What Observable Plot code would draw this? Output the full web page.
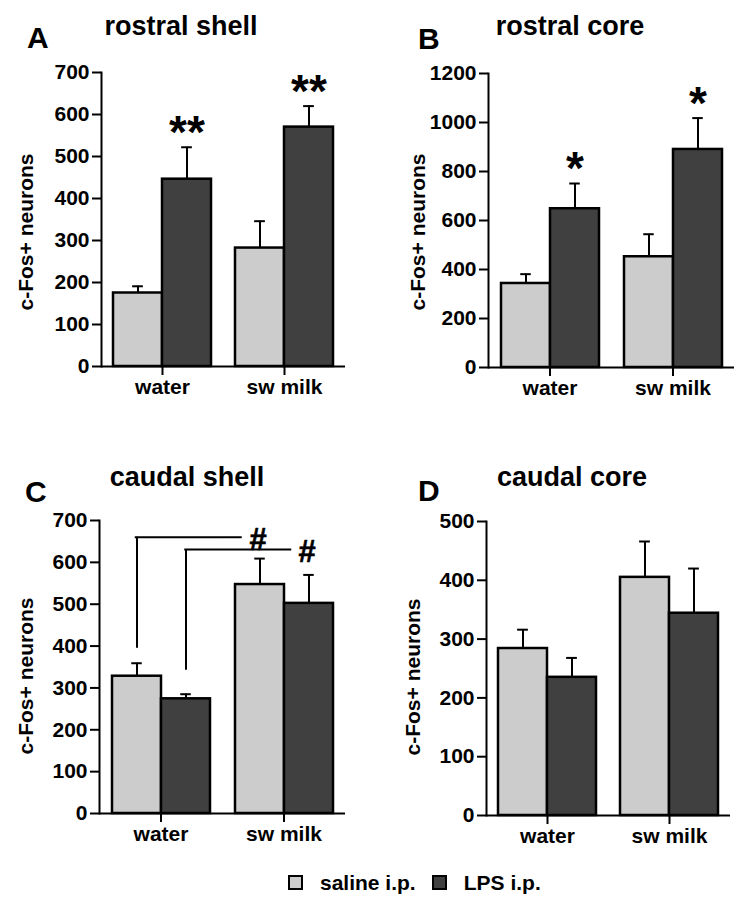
<!DOCTYPE html>
<html>
<head>
<meta charset="utf-8">
<script src="https://cdn.jsdelivr.net/npm/d3@7"></script>
<script src="https://cdn.jsdelivr.net/npm/@observablehq/plot@0.6"></script>
<style>
  html, body { margin: 0; padding: 0; background: #fff; }
  body { font-family: "Liberation Sans", Arial, sans-serif; font-weight: bold; color: #000; }
  #page { position: relative; width: 750px; height: 911px; overflow: hidden; }
  .letter { position: absolute; font-size: 30px; line-height: 1; white-space: nowrap; }
  .title { position: absolute; font-size: 27px; line-height: 1; white-space: nowrap; transform: translateX(-50%); }
  .ylab { position: absolute; font-size: 21px; line-height: 1; white-space: nowrap; transform: translate(-50%, -50%) rotate(-90deg); }
  .legend { position: absolute; left: 288px; top: 872px; display: flex; align-items: center; font-size: 21px; line-height: 1; white-space: nowrap; }
  .sw { width: 11px; height: 11px; border: 2px solid #000; display: inline-block; }
  .legend span.lab { margin-left: 17px; margin-right: 16px; }
</style>
</head>
<body>
<div id="page"></div>
<script>
// ---------- data ----------
const groups = ["water", "sw milk"];
const treatments = ["saline i.p.", "LPS i.p."];
const yLabel = "c-Fos+ neurons";

// order: water/saline, water/LPS, sw milk/saline, sw milk/LPS
const rostralShellMean = [175, 446, 282, 570];
const rostralShellSem  = [16, 76, 64, 50];
const rostralShellSig  = ["", "**", "", "**"];
const rostralShellTicks = [0, 100, 200, 300, 400, 500, 600, 700];

const rostralCoreMean = [343, 648, 452, 890];
const rostralCoreSem  = [38, 103, 92, 128];
const rostralCoreSig  = ["", "*", "", "*"];
const rostralCoreTicks = [0, 200, 400, 600, 800, 1000, 1200];

const caudalShellMean = [328, 274, 547, 502];
const caudalShellSem  = [31, 11, 62, 68];
const caudalShellSig  = ["", "", "", ""];
const caudalShellTicks = [0, 100, 200, 300, 400, 500, 600, 700];
// "#" comparisons: water vs sw milk within a treatment (bracket levels in data units)
const caudalShellComparisons = [
  {from: "water", to: "sw milk", treatment: "saline i.p.", low: 395, high: 660, label: "#"},
  {from: "water", to: "sw milk", treatment: "LPS i.p.", low: 342, high: 631, label: "#"}
];

const caudalCoreMean = [284, 235, 405, 344];
const caudalCoreSem  = [32, 33, 61, 76];
const caudalCoreSig  = ["", "", "", ""];
const caudalCoreTicks = [0, 100, 200, 300, 400, 500];

const colors = ["#cccccc", "#404040"];

// ---------- drawing ----------
const FONT = '"Liberation Sans", Arial, sans-serif';
const FS = 21;
const PAD = 12; // px gap between axis/facet edge and bars

function buildRows(mean, sem, sig) {
  const rows = [];
  groups.forEach((g, gi) => treatments.forEach((t, ti) => {
    const k = gi * treatments.length + ti;
    rows.push({group: g, treatment: t, mean: mean[k], sem: sem[k], top: mean[k] + sem[k], sig: sig[k]});
  }));
  return rows;
}

function panel({mean, sem, sig, ticks, comps = [], L}) {
  const rows = buildRows(mean, sem, sig);
  const ymax = ticks[ticks.length - 1];
  const facetW = (375 - L.ml - L.mr) / groups.length;
  const bw = (facetW - 2 * PAD) / treatments.length;
  const marks = [
    Plot.barY(rows, {fx: "group", x: "treatment", y: "mean", fill: "treatment", stroke: "#000", strokeWidth: 2.5}),
    Plot.ruleX(rows, {fx: "group", x: "treatment", y1: "mean", y2: "top", stroke: "#000", strokeWidth: 2}),
    Plot.tickY(rows, {fx: "group", x: "treatment", y: "top", stroke: "#000", strokeWidth: 2, inset: (bw - 11) / 2}),
    Plot.text(rows.filter(d => d.sig), {fx: "group", x: "treatment", y: "top", text: "sig", fontSize: 46, fontWeight: "bold", fontFamily: FONT, lineAnchor: "middle", dy: -14, fill: "#000"}),
    Plot.ruleY([0], {stroke: "#000", strokeWidth: 2}),
    Plot.frame({anchor: "left", facetAnchor: "left", stroke: "#000", strokeWidth: 2}),
    Plot.axisY({ticks, tickFormat: "d", tickSize: 9, tickPadding: 3, label: null, fontSize: FS, fontWeight: "bold", fontFamily: FONT, strokeWidth: 2}),
    Plot.axisFx({anchor: "bottom", tickSize: 9, tickPadding: 4, label: null, fontSize: FS, fontWeight: "bold", fontFamily: FONT, strokeWidth: 2})
  ];
  comps.forEach((c) => {
    const ti = treatments.indexOf(c.treatment);
    const centerOffset = PAD + (ti + 0.5) * bw; // band centre from facet's left edge
    marks.push(
      Plot.ruleX([c], {fx: "from", x: "treatment", y1: "low", y2: "high", stroke: "#000", strokeWidth: 2}),
      // horizontal part inside the source facet: from the bar centre to the facet's right edge
      Plot.ruleY([c], {fx: "from", y: "high", stroke: "#000", strokeWidth: 2, insetLeft: centerOffset - 1}),
      // horizontal part inside the target facet: from the facet's left edge to just before the label
      Plot.ruleY([c], {fx: "to", y: "high", stroke: "#000", strokeWidth: 2, insetRight: facetW - centerOffset + 17}),
      Plot.text([c], {fx: "to", x: "treatment", y: "high", text: "label", fontSize: 31, fontWeight: "bold", fontFamily: FONT, lineAnchor: "middle", dy: 3, dx: -2, fill: "#000", stroke: "#000", strokeWidth: 0.6})
    );
  });
  return Plot.plot({
    width: 375, height: 420,
    marginLeft: L.ml, marginRight: L.mr, marginTop: L.mt, marginBottom: 420 - L.bottom,
    style: {fontFamily: FONT, fontSize: FS + "px", fontWeight: "bold", color: "#000", background: "transparent", overflow: "visible"},
    fx: {domain: groups, padding: 0, axis: null, label: null},
    x: {domain: treatments, padding: 0, insetLeft: PAD, insetRight: PAD, axis: null},
    y: {domain: [0, ymax], axis: null},
    color: {domain: treatments, range: colors},
    marks
  });
}

const page = document.getElementById("page");
function place(node, left, top) {
  node.style.position = "absolute";
  node.style.left = left + "px";
  node.style.top = top + "px";
  page.appendChild(node);
}
function addText(cls, text, x, baseline, size) {
  const d = document.createElement("div");
  d.className = cls;
  d.textContent = text;
  d.style.left = x + "px";
  d.style.top = (baseline - 0.8465 * size) + "px";
  page.appendChild(d);
}
function addYLabel(cx, cy) {
  const d = document.createElement("div");
  d.className = "ylab";
  d.textContent = yLabel;
  d.style.left = cx + "px";
  d.style.top = cy + "px";
  page.appendChild(d);
}

place(panel({mean: rostralShellMean, sem: rostralShellSem, sig: rostralShellSig, ticks: rostralShellTicks,
  L: {ml: 100, mr: 30, mt: 72, bottom: 366}}), 0, 0);
place(panel({mean: rostralCoreMean, sem: rostralCoreSem, sig: rostralCoreSig, ticks: rostralCoreTicks,
  L: {ml: 113, mr: 16, mt: 73, bottom: 367}}), 375, 0);
place(panel({mean: caudalShellMean, sem: caudalShellSem, sig: caudalShellSig, ticks: caudalShellTicks, comps: caudalShellComparisons,
  L: {ml: 99, mr: 30, mt: 80, bottom: 373}}), 0, 440);
place(panel({mean: caudalCoreMean, sem: caudalCoreSem, sig: caudalCoreSig, ticks: caudalCoreTicks,
  L: {ml: 110, mr: 20, mt: 81, bottom: 375}}), 375, 440);

addYLabel(25, 232);
addYLabel(417, 232);
addYLabel(25, 676);
addYLabel(412, 677);

addText("letter", "A", 27, 48, 30);
addText("letter", "B", 418, 49, 30);
addText("letter", "C", 25, 502, 30);
addText("letter", "D", 418, 501, 30);
addText("title", "rostral shell", 181, 36, 27);
addText("title", "rostral core", 570, 36, 27);
addText("title", "caudal shell", 187, 487, 27);
addText("title", "caudal core", 572, 487, 27);

// legend
const lg = document.createElement("div");
lg.className = "legend";
treatments.forEach((t, i) => {
  const sw = document.createElement("span");
  sw.className = "sw";
  sw.style.background = colors[i];
  const lab = document.createElement("span");
  lab.className = "lab";
  lab.textContent = t;
  lg.appendChild(sw);
  lg.appendChild(lab);
});
page.appendChild(lg);
</script>
</body>
</html>
